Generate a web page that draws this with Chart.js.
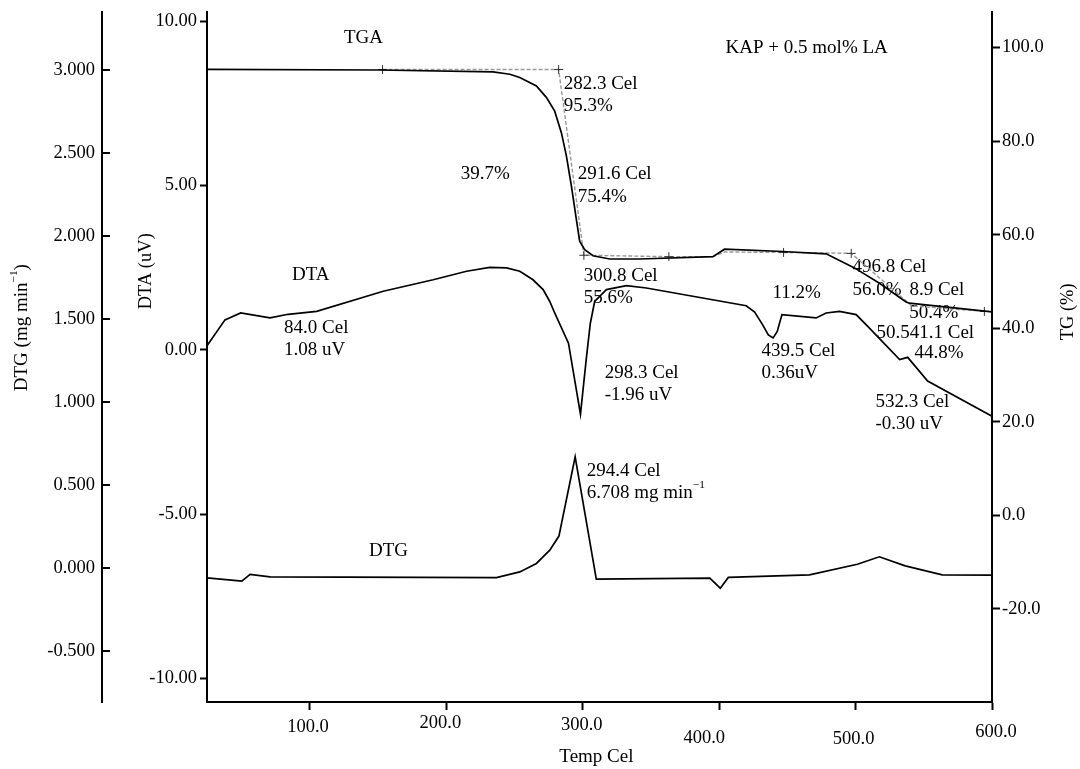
<!DOCTYPE html>
<html>
<head>
<meta charset="utf-8">
<title>KAP + 0.5 mol% LA - TGA / DTA / DTG</title>
<script src="https://cdn.jsdelivr.net/npm/chart.js@4/dist/chart.umd.min.js"></script>
<style>
  html, body { margin: 0; padding: 0; background: #fff; }
  canvas { display: block; }
</style>
</head>
<body>
<canvas id="thermo" width="1080" height="769"></canvas>
<script>
// Curvas termogravimétricas: TG (%), DTA (uV) y DTG (mg/min) contra temperatura (Cel).

const tgaTemp = [24.5, 150, 234.2, 246.5, 253.8, 266.0, 273.4, 279.4, 284.3, 288.0, 291.7, 295.3, 297.7,
  301.4, 307.5, 319.7, 341.7, 395.4, 403.9, 446.6, 478.4, 499.2, 517.5, 537.0, 539.4, 600];
const tgaMass = [95.35, 95.2, 94.8, 94.3, 93.6, 91.8, 89.3, 86.4, 81.8, 76.8, 70.3, 63.2, 58.6,
  56.8, 55.5, 54.8, 54.8, 55.3, 56.9, 56.4, 55.9, 52.9, 49.6, 45.6, 45.35, 43.5];

// construcción de escalones (línea discontinua) y cuáles vértices llevan cruz
const stepTemp = [153.2, 282.3, 300.8, 363.1, 395.4, 403.9, 447.2, 477.2, 496.8, 541.1, 594.4];
const stepMass = [95.3, 95.3, 55.6, 55.3, 55.3, 56.3, 56.2, 56.1, 56.0, 44.8, 43.6];
const stepCross = [true, true, true, true, false, false, true, false, true, false, true];

const dtaTemp = [24.5, 37.7, 49.2, 70.7, 84.0, 104.9, 153.7, 190.3, 214.8, 231.8, 244.1, 253.8, 263.5,
  270.9, 275.8, 279.4, 289.5, 298.3, 302.5, 305.5, 308.7, 317.3, 332.0, 346.6, 419.8, 426.0, 432.0,
  436.0, 439.5, 442.5, 446.0, 471.1, 478.4, 488.2, 500.4, 508.9, 532.3, 538.2, 552.8, 600];
const dtaSignal = [0.12, 0.91, 1.12, 0.97, 1.08, 1.17, 1.78, 2.13, 2.39, 2.51, 2.49, 2.39, 2.13,
  1.83, 1.47, 1.12, 0.20, -1.96, -0.30, 0.80, 1.47, 1.83, 1.95, 1.88, 1.34, 1.15, 0.75,
  0.45, 0.36, 0.55, 1.07, 0.97, 1.12, 1.17, 1.07, 0.71, -0.30, -0.23, -0.95, -2.02];

const dtgTemp = [24.5, 50.0, 56.1, 70.7, 236.7, 253.8, 266.0, 275.8, 282.5, 294.4, 309.9, 393.1, 400.8,
  406.7, 466.2, 501.3, 517.4, 536.4, 563.5, 600];
const dtgRate = [-0.058, -0.078, -0.037, -0.052, -0.056, -0.022, 0.029, 0.109, 0.194, 0.6708, -0.065,
  -0.060, -0.120, -0.055, -0.040, 0.024, 0.069, 0.014, -0.040, -0.042];

// rótulos sobre el gráfico: texto, temperatura del borde izquierdo y valor en el eje indicado
const notes = [
  { text: "TGA", t: 124.9, v: 102.0, axis: "tg" },
  { text: "KAP + 0.5 mol% LA", t: 404.7, v: 99.9, axis: "tg" },
  { text: "282.3 Cel", t: 286.0, v: 92.1, axis: "tg" },
  { text: "95.3%", t: 286.0, v: 87.4, axis: "tg" },
  { text: "39.7%", t: 210.6, v: 72.9, axis: "tg" },
  { text: "291.6 Cel", t: 296.3, v: 72.9, axis: "tg" },
  { text: "75.4%", t: 296.3, v: 68.1, axis: "tg" },
  { text: "300.8 Cel", t: 300.7, v: 51.2, axis: "tg" },
  { text: "55.6%", t: 300.7, v: 46.5, axis: "tg" },
  { text: "11.2%", t: 439.1, v: 47.6, axis: "tg" },
  { text: "496.8 Cel", t: 497.7, v: 53.1, axis: "tg" },
  { text: "518.9 Cel", t: 525.5, v: 48.2, axis: "tg" },
  { text: "56.0%", t: 497.7, v: 48.2, axis: "tg", box: true },
  { text: "50.4%", t: 539.4, v: 43.3, axis: "tg" },
  { text: "50.541.1 Cel", t: 515.3, v: 39.0, axis: "tg" },
  { text: "44.8%", t: 543.1, v: 34.7, axis: "tg" },
  { text: "DTA", t: 86.8, v: 2.29, axis: "dta" },
  { text: "84.0 Cel", t: 81.0, v: 0.67, axis: "dta" },
  { text: "1.08 uV", t: 81.0, v: 0.0, axis: "dta" },
  { text: "298.3 Cel", t: 316.1, v: -0.70, axis: "dta" },
  { text: "-1.96 uV", t: 316.1, v: -1.37, axis: "dta" },
  { text: "439.5 Cel", t: 431.0, v: -0.03, axis: "dta" },
  { text: "0.36uV", t: 431.0, v: -0.70, axis: "dta" },
  { text: "532.3 Cel", t: 514.5, v: -1.585, axis: "dta" },
  { text: "-0.30 uV", t: 514.5, v: -2.256, axis: "dta" },
  { text: "DTG", t: 143.2, v: 0.103, axis: "dtg" },
  { text: "294.4 Cel", t: 302.9, v: 0.586, axis: "dtg" },
  { text: "6.708 mg min", sup: "\u22121", t: 302.9, v: 0.453, axis: "dtg" },
];

const FONT = "'Liberation Serif', 'Times New Roman', serif";
const INK = "#000";

// desplazamientos de las etiquetas del eje de temperatura (escalonadas)
const xLabelNudge = { 100: [-2, 0], 200: [-6, -4], 300: [-1, -2], 400: [-15, 11], 500: [-2, 12], 600: [4, 5] };

function pts(xs, ys) {
  return xs.map((x, i) => ({ x, y: ys[i] }));
}

// texto con superíndice opcional; devuelve el ancho
function runsWidth(ctx, text, sup, size) {
  ctx.font = `${size}px ${FONT}`;
  let w = ctx.measureText(text).width;
  if (sup) {
    ctx.font = `${size * 0.6}px ${FONT}`;
    w += ctx.measureText(sup).width;
  }
  return w;
}

function drawRuns(ctx, text, sup, tail, x, y, size) {
  ctx.font = `${size}px ${FONT}`;
  ctx.fillText(text, x, y);
  let cx = x + ctx.measureText(text).width;
  if (sup) {
    ctx.font = `${size * 0.6}px ${FONT}`;
    ctx.fillText(sup, cx, y - size * 0.4);
    cx += ctx.measureText(sup).width;
  }
  if (tail) {
    ctx.font = `${size}px ${FONT}`;
    ctx.fillText(tail, cx, y);
  }
}

function vertTitle(ctx, x, y, text, sup, tail, size) {
  let w = runsWidth(ctx, text, sup, size);
  if (tail) { ctx.font = `${size}px ${FONT}`; w += ctx.measureText(tail).width; }
  ctx.save();
  ctx.translate(x, y);
  ctx.rotate(-Math.PI / 2);
  ctx.textAlign = "left";
  ctx.textBaseline = "middle";
  drawRuns(ctx, text, sup, tail, -w / 2, 0, size);
  ctx.restore();
}

const decor = {
  id: "decor",
  // los rótulos van debajo de las curvas, como en el registro original
  beforeDatasetsDraw(chart) {
    const { ctx, scales } = chart;
    ctx.save();
    ctx.textAlign = "left";
    ctx.textBaseline = "middle";
    for (const n of notes) {
      const px = scales.x.getPixelForValue(n.t);
      const py = scales[n.axis].getPixelForValue(n.v);
      if (n.box) {
        const w = runsWidth(ctx, n.text, n.sup, 19);
        ctx.fillStyle = "#fff";
        ctx.fillRect(px - 1, py - 10, w + 8, 20);
      }
      ctx.fillStyle = INK;
      drawRuns(ctx, n.text, n.sup, null, px, py, 19);
    }
    ctx.restore();
  },
  afterDraw(chart) {
    const { ctx, chartArea, scales } = chart;
    const { x, dta, dtg, tg } = scales;
    ctx.save();
    ctx.fillStyle = INK;
    ctx.strokeStyle = INK;

    // marcas del eje DTG hacia adentro
    ctx.lineWidth = 2;
    ctx.beginPath();
    for (const tk of dtg.ticks) {
      const py = Math.round(dtg.getPixelForValue(tk.value));
      ctx.moveTo(dtg.right - 1, py);
      ctx.lineTo(dtg.right + 8, py);
    }
    ctx.stroke();

    // etiquetas del eje de temperatura
    ctx.font = `18.5px ${FONT}`;
    ctx.textAlign = "center";
    ctx.textBaseline = "middle";
    for (const tk of x.ticks) {
      const [dx, dy] = xLabelNudge[Math.round(tk.value)] || [0, 0];
      ctx.fillText(tk.value.toFixed(1), x.getPixelForValue(tk.value) + dx, chartArea.bottom + 25 + dy);
    }

    // títulos de ejes
    ctx.font = `19px ${FONT}`;
    ctx.fillText("Temp Cel", x.getPixelForValue(310), chartArea.bottom + 55);
    vertTitle(ctx, dtg.left + 22, dtg.getPixelForValue(1.45), "DTG (mg min", "\u22121", ")", 19);
    vertTitle(ctx, dta.left + 44, dta.getPixelForValue(2.39), "DTA (uV)", null, null, 18.5);
    vertTitle(ctx, tg.left + 76, tg.getPixelForValue(43.5), "TG (%)", null, null, 18.5);
    ctx.restore();
  },
};

const tickFont = { family: FONT, size: 18.5 };
const axisBorder = { display: true, color: INK, width: 2 };
const tickGrid = (len) => ({ drawOnChartArea: false, drawTicks: true, tickLength: len, tickColor: INK, tickWidth: 2, color: INK });

// tamaño fijo de cada eje, sin el margen extra que Chart.js reserva para las etiquetas extremas
function fixBox(w, h) {
  return (s) => {
    if (w) s.width = w;
    if (h) s.height = h;
    s.paddingTop = 0;
    s.paddingBottom = 0;
    s.paddingLeft = 0;
    s.paddingRight = 0;
  };
}

new Chart(document.getElementById("thermo"), {
  type: "line",
  data: {
    datasets: [
      {
        label: "TGA",
        data: pts(tgaTemp, tgaMass),
        yAxisID: "tg",
        borderColor: INK,
        borderWidth: 1.7,
        pointRadius: 0,
      },
      {
        label: "DTA",
        data: pts(dtaTemp, dtaSignal),
        yAxisID: "dta",
        borderColor: INK,
        borderWidth: 1.7,
        pointRadius: 0,
      },
      {
        label: "DTG",
        data: pts(dtgTemp, dtgRate),
        yAxisID: "dtg",
        borderColor: INK,
        borderWidth: 1.7,
        pointRadius: 0,
      },
      {
        label: "escalones",
        data: pts(stepTemp, stepMass),
        yAxisID: "tg",
        borderColor: "#999",
        borderWidth: 1.4,
        borderDash: [4, 2],
        pointStyle: "cross",
        pointRadius: (c) => (stepCross[c.dataIndex] ? 4.5 : 0),
        pointBorderColor: "#333",
        pointBorderWidth: 1,
      },
    ],
  },
  options: {
    responsive: false,
    animation: false,
    devicePixelRatio: 1,
    tension: 0,
    layout: { padding: { top: 12, left: 0, right: 0, bottom: 0 } },
    plugins: { legend: { display: false }, tooltip: { enabled: false } },
    scales: {
      x: {
        type: "linear",
        min: 24.5,
        max: 600,
        ticks: { display: false, stepSize: 100, includeBounds: false },
        grid: tickGrid(8),
        border: axisBorder,
        afterFit: fixBox(0, 67),
      },
      dta: {
        position: "left",
        weight: 0,
        min: -10.72,
        max: 10.28,
        ticks: { stepSize: 5, includeBounds: false, color: INK, font: tickFont, padding: 3, callback: (v) => v.toFixed(2) },
        grid: tickGrid(7),
        border: axisBorder,
        afterFit: fixBox(105, 0),
      },
      dtg: {
        position: "left",
        weight: 1,
        min: -0.806,
        max: 3.352,
        ticks: { stepSize: 0.5, includeBounds: false, color: INK, font: tickFont, padding: 7, callback: (v) => v.toFixed(3) },
        grid: { drawOnChartArea: false, drawTicks: false },
        border: axisBorder,
        afterFit: fixBox(102, 0),
      },
      tg: {
        position: "right",
        min: -39.9,
        max: 107.6,
        ticks: { stepSize: 20, includeBounds: false, color: INK, font: tickFont, padding: 2, callback: (v) => v.toFixed(1) },
        grid: tickGrid(8),
        border: axisBorder,
        afterFit: fixBox(88, 0),
      },
    },
  },
  plugins: [decor],
});
</script>
</body>
</html>
